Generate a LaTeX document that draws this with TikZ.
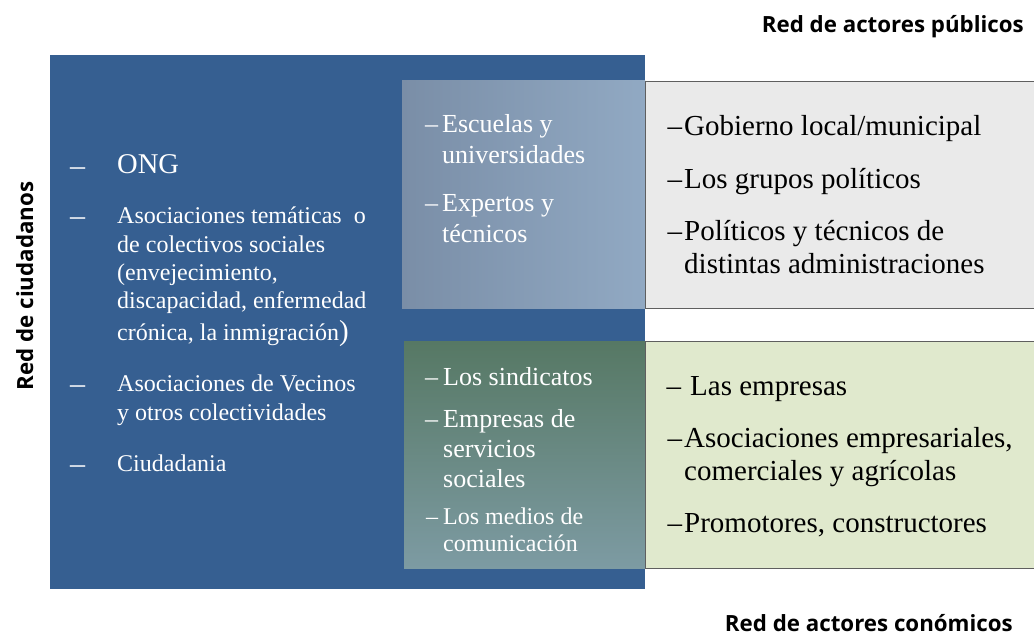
\documentclass[tikz,border=0pt]{standalone}
\usepackage{fontspec}
\setmainfont{Liberation Serif}
\newfontfamily\lblfont{Open Sans}

\definecolor{ciudblue}{HTML}{365F91}
\definecolor{pubgray}{HTML}{EAEAEA}
\definecolor{econgreen}{HTML}{E0E9CD}
\definecolor{edgegray}{HTML}{5F5F5F}
\definecolor{puba}{HTML}{7A8EA7}
\definecolor{pubb}{HTML}{91A9C3}
\definecolor{econa}{HTML}{567864}
\definecolor{econb}{HTML}{7D9BA3}

\newcommand{\dsh}[1][2pt]{\leavevmode\llap{–\hspace{#1}}}
\newcommand{\ldsh}{\leavevmode\llap{\makebox[47pt][l]{\raisebox{-2pt}{\fontsize{30}{30}\selectfont –}}}}

\begin{document}
\begin{tikzpicture}[x=1pt, y=-1pt,
    box/.style={rectangle, inner sep=0pt, anchor=north west},
    item/.style={anchor=base west, inner sep=0pt, align=left},
    lbl/.style={inner sep=0pt, font=\lblfont\bfseries\fontsize{22.3}{26}\selectfont}]
    \useasboundingbox (0,0) rectangle (1034,635);
    \clip (0,0) rectangle (1034,635);

    % boxes
    \node[box, fill=ciudblue, minimum width=595pt, minimum height=534pt] (ciud) at (50,55) {};
    \node[box, left color=puba, right color=pubb, minimum width=243pt, minimum height=228pt] (pubciud) at (402,80) {};
    \node[box, fill=pubgray, draw=edgegray, line width=1pt, minimum width=400pt, minimum height=227pt] (pub) at (645,81) {};
    \node[box, top color=econa, bottom color=econb, minimum width=241pt, minimum height=227pt] (econciud) at (404,341) {};
    \node[box, fill=econgreen, draw=edgegray, line width=1pt, minimum width=400pt, minimum height=227pt] (econ) at (645,341) {};

    % red de ciudadanos (base = last line)
    \begin{scope}[every node/.style={item, text=white, font=\fontsize{24}{28.3}\selectfont}]
        \node[font=\fontsize{28.6}{30}\selectfont] (ong) at (117,173) {\ldsh ONG};
        \node (tema) at (117,340) {\ldsh Asociaciones temáticas \ o\\de colectivos sociales\\(envejecimiento,\\discapacidad, enfermedad\\[3pt]crónica, la inmigración{\fontsize{29}{29}\selectfont)}};
        \node (vecinos) at (117,420) {\ldsh Asociaciones de Vecinos\\y otros colectividades};
        \node (ciudadania) at (117,471) {\ldsh Ciudadania};
    \end{scope}

    % zona comun publica
    \begin{scope}[every node/.style={item, text=white, font=\fontsize{26}{30.5}\selectfont}]
        \node (escuelas) at (442,163) {\dsh[4pt]Escuelas y\\universidades};
        \node (expertos) at (442,242) {\dsh[4pt]Expertos y\\técnicos};
    \end{scope}

    % zona comun economica
    \begin{scope}[every node/.style={item, text=white, font=\fontsize{26}{30}\selectfont}]
        \node (sindicatos) at (443,385) {\dsh[5pt]Los sindicatos};
        \node (servicios) at (443,487) {\dsh[5pt]Empresas de\\servicios\\sociales};
        \node[font=\fontsize{24}{27}\selectfont] (medios) at (443,551) {\dsh[5pt]Los medios de\\comunicación};
    \end{scope}

    % actores publicos
    \begin{scope}[every node/.style={item, font=\fontsize{29}{33}\selectfont}]
        \node (gobierno) at (684,135) {\dsh Gobierno local/municipal};
        \node (grupos) at (684,188) {\dsh Los grupos políticos};
        \node (politicos) at (684,273) {\dsh Políticos y técnicos de\\distintas administraciones};
    \end{scope}

    % actores economicos
    \begin{scope}[every node/.style={item, font=\fontsize{29}{33}\selectfont}]
        \node (empresas) at (690,395) {\dsh[9pt]Las empresas};
        \node (asociaciones) at (684,480) {\dsh Asociaciones empresariales,\\comerciales y agrícolas};
        \node (promotores) at (684,532) {\dsh Promotores, constructores};
    \end{scope}

    % titulos
    \node[lbl, anchor=base east] (pubtit) at (1024,32) {Red de actores públicos};
    \node[lbl, anchor=base east] (econtit) at (1013,631) {Red de actores conómicos};
    \node[lbl, anchor=base, rotate=90] (ciudtit) at (33,286) {Red de ciudadanos};
\end{tikzpicture}
\end{document}
